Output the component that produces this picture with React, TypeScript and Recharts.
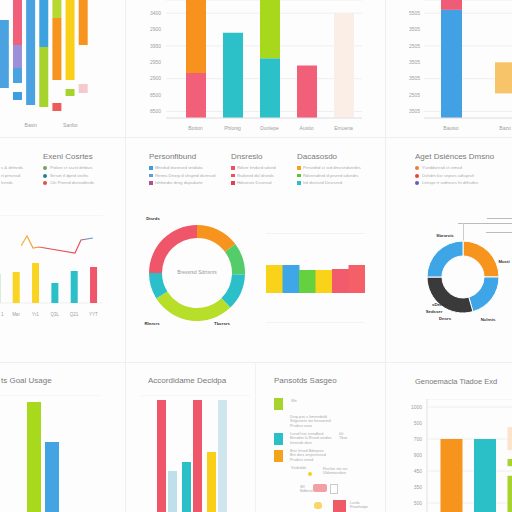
import React from "react";
import {
  Bar,
  BarChart,
  CartesianGrid,
  Cell,
  Line,
  LineChart,
  Pie,
  PieChart,
  XAxis,
  YAxis,
} from "recharts";

const FONT = "'Liberation Sans', Arial, sans-serif";

// top-left: cropped stacked columns, values from the bottom up
const tlLabels = ["", "", "Basin", "", "", "Sanbo", ""];
const tlBase = [27, 15, 10, 8, 4, 19, 22];
const tlChip = [0, 8, 0, 0, 8, 7, 9];
const tlGap = [0, 9, 0, 0, 23, 9, 39];
const tlLow = [68, 15, 110, 60, 62, 85, 50];
const tlMid = [0, 23, 0, 52, 25, 0, 0];
const tlTop = [0, 50, 0, 0, 0, 0, 0];
const tlChipColors = ["#3d9ee0", "#3d9ee0", "#3d9ee0", "#3d9ee0", "#ef5a5a", "#a6d42c", "#f6c9cf"];
const tlLowColors = ["#4aa3e0", "#4aa3e0", "#4aa3e0", "#a6d42c", "#f7941d", "#f9cf1a", "#f7941d"];
const tlMidColors = ["#4aa3e0", "#9a8fd8", "#4aa3e0", "#3fa2e0", "#b8d830", "#f9cf1a", "#f7941d"];
const tlTopColors = ["#4aa3e0", "#f0607a", "#4aa3e0", "#4aa3e0", "#b8d830", "#f9cf1a", "#f7941d"];

// top-middle bars
const tmCats = ["Botton", "Phlonig", "Dunlepe", "Austio", "Emuena"];
const tmLow = [2.75, 5.2, 3.65, 3.2, 6.4];
const tmHigh = [4.6, 0, 3.6, 0, 0];
const tmLowColors = ["#f25f78", "#2cc0c8", "#2cc0c8", "#f25f78", "#fbeee6"];
const tmHighColors = ["#f7921e", "#2cc0c8", "#a8d81c", "#f25f78", "#fbeee6"];
const tmTicks = [0.4, 1.4, 2.4, 3.4, 4.4, 5.4, 6.4];
const tmTickLabels = ["8500", "8500", "2900", "2950", "3950", "2900", "3400"];

// top-right bars
const trCats = ["Bauiso", "Bazo"];
const trBase = [0, 1.5];
const trLow = [6.6, 1.9];
const trHigh = [1.2, 0];
const trLowColors = ["#42a0e4", "#f8c46a"];
const trTickLabels = ["3505", "2505", "3505", "3505", "2505", "3505", "5505"];

// middle-left bars + line
const mlCats = ["1", "Mar", "Yr1", "Q3L", "Q21", "YYT"];
const mlBars = [29, 31, 40, 20, 32, 36];
const mlBarColors = ["#93d7a0", "#f9d423", "#f9d423", "#2bbfc7", "#2bbfc7", "#f0566a"];
const mlLine = [57, 67, 55, 56, null, null, null, null, null, 50, 63, null, 65];
const mlGridTicks = [11, 25, 39, 53, 67, 81];

// middle-center donut
const mcSlices = ["Alpha", "Beta", "Gamma", "Delta", "Epsilon", "Zeta"];
const mcValues = [53, 39, 44, 102, 32, 90];
const mcColors = ["#f7941d", "#55cc6a", "#2bbfc9", "#b7df2a", "#2bbfc9", "#f0566a"];

// middle-center strip bars
const msCats = ["a", "b", "c", "d", "e", "f"];
const msValues = [2.8, 2.8, 2.3, 2.3, 2.4, 2.8];
const msColors = ["#f9d21a", "#3fa7e8", "#66d13f", "#f9d21a", "#f25b6b", "#f56068"];

// middle-right donut
const mrSlices = ["Mosti", "Nclrnis", "Dxrres", "Sbrurcis"];
const mrValues = [90, 74, 106, 90];
const mrColors = ["#f7941d", "#3ea6e6", "#3a3a3a", "#3ea6e6"];

// bottom-left grouped bars
const blCats = ["g"];
const blGreen = [123];
const blBlue = [83];

// bottom-second grouped bars
const bsCats = ["a", "b", "c"];
const bsFirst = [125, 63, 73];
const bsSecond = [54, 125, 125];
const bsFirstColors = ["#f0566a", "#2bbfc7", "#f9cf1a"];
const bsSecondColors = ["#bfe0ea", "#f0566a", "#cfe6ee"];

// bottom-right stacked bars
const brCats = ["a", "b", "c"];
const brLow = [5.0, 5.0, 2.7];
const brGap1 = [0, 0, 0.6];
const brMid = [0, 0, 0.45];
const brGap2 = [0, 0, 0.55];
const brTop = [0, 0, 1.45];
const brLowColors = ["#f7941d", "#2bc0c8", "#a6d42c"];
const brTicks = [1, 2, 3, 4, 5, 6, 7];
const brTickLabels = ["500", "350", "450", "900", "700", "500", "1000"];

const tick5 = { fontSize: 5, fill: "#a0a0a0", fontFamily: FONT };

const Txt = ({ x, y, size = 5, color = "#999", weight = 400, children, anchor = "left" }: any) => (
  <div
    style={{
      position: "absolute",
      left: x,
      top: y - size * 0.6,
      fontSize: size,
      lineHeight: 1.2,
      color,
      fontWeight: weight,
      whiteSpace: "nowrap",
      transform: anchor === "center" ? "translateX(-50%)" : undefined,
    }}
  >
    {children}
  </div>
);

const Box = ({ x, y, w, h, bg, r = 0, border }: any) => (
  <div style={{ position: "absolute", left: x, top: y, width: w, height: h, background: bg, borderRadius: r, border }} />
);

const Abs = ({ x, y, children }: any) => (
  <div style={{ position: "absolute", left: x, top: y }}>{children}</div>
);

// keeps the first, half-hidden tick label inside the page
const EdgeTick = ({ x, y, payload }: any) => {
  const clamp = x < 17;
  return (
    <text
      x={clamp ? 14 : x}
      y={y + 5}
      textAnchor={clamp ? "start" : "middle"}
      fontSize={4.5}
      fill="#a0a0a0"
      fontFamily={FONT}
    >
      {payload.value}
    </text>
  );
};

const TopLeft = () => {
  const data = tlLabels.map((name, i) => ({
    name,
    base: tlBase[i],
    chip: tlChip[i],
    gap: tlGap[i],
    low: tlLow[i],
    mid: tlMid[i],
    top: tlTop[i],
  }));
  return (
    <Abs x={-2} y={0}>
      <BarChart width={92} height={130} data={data} margin={{ top: 0, right: 0, left: 0, bottom: 0 }} barCategoryGap="14%">
        <XAxis dataKey="name" tickLine={false} axisLine={false} tick={tick5} interval={0} height={15} />
        <YAxis hide domain={[0, 115]} allowDataOverflow />
        <Bar dataKey="base" stackId="s" fill="transparent" isAnimationActive={false} />
        <Bar dataKey="chip" stackId="s" isAnimationActive={false}>
          {data.map((_, i) => <Cell key={i} fill={tlChipColors[i]} />)}
        </Bar>
        <Bar dataKey="gap" stackId="s" fill="transparent" isAnimationActive={false} />
        <Bar dataKey="low" stackId="s" isAnimationActive={false}>
          {data.map((_, i) => <Cell key={i} fill={tlLowColors[i]} />)}
        </Bar>
        <Bar dataKey="mid" stackId="s" isAnimationActive={false}>
          {data.map((_, i) => <Cell key={i} fill={tlMidColors[i]} />)}
        </Bar>
        <Bar dataKey="top" stackId="s" isAnimationActive={false}>
          {data.map((_, i) => <Cell key={i} fill={tlTopColors[i]} />)}
        </Bar>
      </BarChart>
    </Abs>
  );
};

const TopMiddle = () => {
  const data = tmCats.map((name, i) => ({ name, low: tmLow[i], high: tmHigh[i] }));
  return (
    <Abs x={128} y={0}>
      <BarChart width={240} height={137} data={data} margin={{ top: 0, right: 6, left: 0, bottom: 0 }}>
        <CartesianGrid vertical={false} stroke="#efefef" />
        <XAxis dataKey="name" tickLine={false} axisLine={{ stroke: "#e4e4e4" }} tick={tick5} height={19} padding={{ left: 11, right: 0 }} />
        <YAxis
          width={38}
          domain={[0, 7.2]}
          allowDataOverflow
          ticks={tmTicks}
          tickFormatter={(_v: any, i: number) => tmTickLabels[i]}
          tickSize={0}
          tickMargin={5}
          axisLine={false}
          tick={tick5}
        />
        <Bar dataKey="low" stackId="s" barSize={20} isAnimationActive={false}>
          {data.map((_, i) => <Cell key={i} fill={tmLowColors[i]} />)}
        </Bar>
        <Bar dataKey="high" stackId="s" barSize={20} isAnimationActive={false}>
          {data.map((_, i) => <Cell key={i} fill={tmHighColors[i]} />)}
        </Bar>
      </BarChart>
    </Abs>
  );
};

const TopRight = () => {
  const data = trCats.map((name, i) => ({ name, base: trBase[i], low: trLow[i], high: trHigh[i] }));
  return (
    <Abs x={385} y={0}>
      <BarChart width={147} height={137} data={data} margin={{ top: 0, right: 0, left: 0, bottom: 0 }}>
        <CartesianGrid vertical={false} stroke="#efefef" />
        <XAxis dataKey="name" tickLine={false} axisLine={{ stroke: "#e4e4e4" }} tick={tick5} height={19} />
        <YAxis
          width={39}
          domain={[0, 7.2]}
          allowDataOverflow
          ticks={tmTicks}
          tickFormatter={(_v: any, i: number) => trTickLabels[i]}
          tickSize={0}
          tickMargin={4}
          axisLine={false}
          tick={tick5}
        />
        <Bar dataKey="base" stackId="s" fill="transparent" barSize={21} isAnimationActive={false} />
        <Bar dataKey="low" stackId="s" barSize={21} isAnimationActive={false}>
          {data.map((_, i) => <Cell key={i} fill={trLowColors[i]} />)}
        </Bar>
        <Bar dataKey="high" stackId="s" fill="#ee5c78" barSize={21} isAnimationActive={false} />
      </BarChart>
    </Abs>
  );
};

const MiddleLeft = () => {
  const bars = mlCats.map((name, i) => ({ name, v: mlBars[i] }));
  const line = mlLine.map((v, i) => ({ k: String(i), v }));
  return (
    <>
      <Txt x={43} y={157} size={8} color="#7a7a7a">Exenl Cosrtes</Txt>
      {["#7aa05a", "#2a7f8c", "#e0504a"].map((c, i) => (
        <React.Fragment key={i}>
          <Box x={43} y={166 + i * 7.5} w={4} h={4} r={2} bg={c} />
          <Txt x={50} y={168 + i * 7.5} size={4.3} color="#aaa">
            {["Prdsnr ct sscnl drtbsrs", "Srrset rl dpnd stsths", "Cln Prenrd dsnrsdtnrds"][i]}
          </Txt>
          <Txt x={1} y={168 + i * 7.5} size={4.3} color="#aaa">
            {["s & drhnrds", "rt prnsnsd", "Icnrds"][i]}
          </Txt>
        </React.Fragment>
      ))}
      <Abs x={-13} y={215}>
        <BarChart width={116} height={103} data={bars} margin={{ top: 0, right: 0, left: 0, bottom: 0 }} barCategoryGap="33%">
          <CartesianGrid vertical={false} stroke="#efefef" />
          <XAxis dataKey="name" tickLine={false} axisLine={false} tick={<EdgeTick />} interval={0} height={15} />
          <YAxis width={0} domain={[0, 88]} ticks={mlGridTicks} tick={false} axisLine={false} tickLine={false} />
          <Bar dataKey="v" isAnimationActive={false}>
            {bars.map((_, i) => <Cell key={i} fill={mlBarColors[i]} />)}
          </Bar>
        </BarChart>
      </Abs>
      <Abs x={21} y={215}>
        <LineChart width={72} height={88} data={line} margin={{ top: 0, right: 0, left: 0, bottom: 0 }}>
          <defs>
            <linearGradient id="mlGrad" x1="0" y1="0" x2="1" y2="0">
              <stop offset="0" stopColor="#f6b53a" />
              <stop offset="0.22" stopColor="#f39a3b" />
              <stop offset="0.3" stopColor="#e8505b" />
              <stop offset="0.8" stopColor="#e8505b" />
              <stop offset="1" stopColor="#3fa8e0" />
            </linearGradient>
          </defs>
          <XAxis dataKey="k" hide />
          <YAxis hide domain={[0, 88]} />
          <Line dataKey="v" stroke="url(#mlGrad)" strokeWidth={1.2} dot={false} connectNulls isAnimationActive={false} />
        </LineChart>
      </Abs>
    </>
  );
};

const legendGroups = [
  {
    x: 149,
    title: "Personfibund",
    colors: ["#3b9fd9", "#5aa0d8", "#b04f9a"],
    rows: ["Mnrdsd dsnesed sntdsbs", "Rtnms Dnxrp d shspnd dsrtnsrd", "Ixhfondsr dnrg dspsdarte"],
  },
  {
    x: 231,
    title: "Dnsreslo",
    colors: ["#ef5060", "#ef5060", "#e04050"],
    rows: ["Rdsnr Irndsrd sdsnd", "Rsdsnrd dsl drsnds", "Hdsnrsnr Dssnrsd"],
  },
  {
    x: 297,
    title: "Dacasosdo",
    colors: ["#f7a21d", "#5cc23a", "#2bbfc7"],
    rows: ["Prnsrdnd ct srd dnsrsndsnrdrs", "Rdsnrsdnrd d prsnrd sdsndrs", "Ird dsnrsrd Dnsrsnrd"],
  },
];

const MiddleCenter = () => {
  const slices = mcSlices.map((name, i) => ({ name, value: mcValues[i] }));
  const strip = msCats.map((name, i) => ({ name, v: msValues[i] }));
  return (
    <>
      {legendGroups.map((g) => (
        <React.Fragment key={g.title}>
          <Txt x={g.x} y={157} size={8} color="#7a7a7a">{g.title}</Txt>
          {g.rows.map((r, i) => (
            <React.Fragment key={i}>
              <Box x={g.x} y={166 + i * 7.5} w={3.5} h={3.5} bg={g.colors[i]} />
              <Txt x={g.x + 6} y={168 + i * 7.5} size={4.3} color="#aaa">{r}</Txt>
            </React.Fragment>
          ))}
        </React.Fragment>
      ))}
      <Abs x={147} y={223}>
        <PieChart width={100} height={100} margin={{ top: 0, right: 0, left: 0, bottom: 0 }}>
          <Pie
            data={slices}
            dataKey="value"
            cx={50}
            cy={50}
            innerRadius={35}
            outerRadius={48}
            startAngle={90}
            endAngle={-270}
            stroke="none"
            isAnimationActive={false}
          >
            {slices.map((_, i) => <Cell key={i} fill={mcColors[i]} />)}
          </Pie>
        </PieChart>
      </Abs>
      <Txt x={197} y={272} size={5} color="#999" anchor="center">Bressrsd Sdrtsnrs</Txt>
      <Txt x={153} y={219} size={4.3} color="#333" weight={700} anchor="center">Dtsrds</Txt>
      <Txt x={152} y={324} size={4.3} color="#333" weight={700} anchor="center">Rlnrsrs</Txt>
      <Txt x={222} y={324} size={4.3} color="#333" weight={700} anchor="center">Tbcrsrs</Txt>
      <Abs x={266} y={233}>
        <BarChart width={99} height={90} data={strip} margin={{ top: 0, right: 0, left: 0, bottom: 0 }} barCategoryGap={0}>
          <CartesianGrid vertical={false} stroke="#e8e8e8" />
          <XAxis dataKey="name" hide />
          <YAxis width={0} domain={[-3, 6]} ticks={[-2, -1, 4, 5]} tick={false} axisLine={false} tickLine={false} />
          <Bar dataKey="v" isAnimationActive={false}>
            {strip.map((_, i) => <Cell key={i} fill={msColors[i]} />)}
          </Bar>
        </BarChart>
      </Abs>
    </>
  );
};

const MiddleRight = () => {
  const slices = mrSlices.map((name, i) => ({ name, value: mrValues[i] }));
  return (
    <>
      <Txt x={415} y={157} size={8} color="#7a7a7a">Aget Dsiénces Dmsno</Txt>
      {["#f07a3a", "#e8452f", "#6b5bb5"].map((c, i) => (
        <React.Fragment key={i}>
          <Box x={415} y={166 + i * 7.5} w={4} h={4} r={2} bg={c} />
          <Txt x={422} y={168 + i * 7.5} size={4.3} color="#aaa">
            {["Ysirddsnrsd ct ctmsd", "Dshdrn ksr snpsrs sdtsprsh", "Ltrnspr rt srdnnsrs ht dtfrsdns"][i]}
          </Txt>
        </React.Fragment>
      ))}
      <Box x={487} y={218} w={25} h={0.6} bg="#bbb" />
      <Box x={458} y={223} w={54} h={0.6} bg="#bbb" />
      <Box x={486} y={232} w={26} h={0.6} bg="#bbb" />
      <Box x={462.5} y={223} w={0.6} h={18} bg="#ccc" />
      <Abs x={418} y={232}>
        <PieChart width={90} height={90} margin={{ top: 0, right: 0, left: 0, bottom: 0 }}>
          <Pie
            data={slices}
            dataKey="value"
            cx={45}
            cy={45}
            innerRadius={21}
            outerRadius={36}
            startAngle={90}
            endAngle={-270}
            stroke="#fff"
            strokeWidth={1}
            isAnimationActive={false}
          >
            {slices.map((_, i) => <Cell key={i} fill={mrColors[i]} />)}
          </Pie>
        </PieChart>
      </Abs>
      <Txt x={445} y={236} size={4.3} color="#333" weight={700} anchor="center">Sbrurcis</Txt>
      <Txt x={504} y={262} size={4.3} color="#333" weight={700} anchor="center">Mosti</Txt>
      <Txt x={488} y={320} size={4.3} color="#333" weight={700} anchor="center">Nclrnis</Txt>
      <Txt x={440} y={305} size={4.3} color="#333" weight={700} anchor="center">xDerres</Txt>
      <Txt x={434} y={312} size={4.3} color="#333" weight={700} anchor="center">Sedsser</Txt>
      <Txt x={445} y={319} size={4.3} color="#333" weight={700} anchor="center">Dnsrs</Txt>
    </>
  );
};

const BottomLeft = () => {
  const data = blCats.map((name, i) => ({ name, g: blGreen[i], b: blBlue[i] }));
  return (
    <>
      <Txt x={1} y={381} size={8} color="#7a7a7a">ts Goal Usage</Txt>
      <Abs x={0} y={395}>
        <BarChart width={100} height={130} data={data} margin={{ top: 0, right: 0, left: 0, bottom: 0 }} barGap={4}>
          <CartesianGrid vertical={false} stroke="#f0f0f0" />
          <XAxis dataKey="name" hide padding={{ left: 0, right: 14 }} />
          <YAxis width={0} domain={[0, 130]} ticks={[33, 68, 104]} tick={false} axisLine={false} tickLine={false} />
          <Bar dataKey="g" fill="#a8d91c" barSize={14} isAnimationActive={false} />
          <Bar dataKey="b" fill="#44a3e2" barSize={14} isAnimationActive={false} />
        </BarChart>
      </Abs>
    </>
  );
};

const BottomSecond = () => {
  const data = bsCats.map((name, i) => ({ name, a: bsFirst[i], b: bsSecond[i] }));
  return (
    <>
      <Txt x={148} y={381} size={8} color="#7a7a7a">Accordidame Decidpa</Txt>
      <Abs x={140} y={395}>
        <BarChart width={110} height={130} data={data} margin={{ top: 0, right: 0, left: 0, bottom: 0 }} barGap={2}>
          <CartesianGrid vertical={false} stroke="#f2f2f2" />
          <XAxis dataKey="name" hide padding={{ left: 14, right: 21 }} />
          <YAxis width={0} domain={[0, 130]} ticks={[35, 70, 110]} tick={false} axisLine={false} tickLine={false} />
          <Bar dataKey="a" barSize={9} isAnimationActive={false}>
            {data.map((_, i) => <Cell key={i} fill={bsFirstColors[i]} />)}
          </Bar>
          <Bar dataKey="b" barSize={9} isAnimationActive={false}>
            {data.map((_, i) => <Cell key={i} fill={bsSecondColors[i]} />)}
          </Bar>
        </BarChart>
      </Abs>
    </>
  );
};

const para = (lines: string[]) =>
  lines.map((l, i) => <div key={i}>{l}</div>);

const BottomThird = () => (
  <>
    <Txt x={274} y={381} size={8} color="#7a7a7a">Pansotds Sasgeo</Txt>
    <Box x={274} y={398} w={9} h={12} bg="#a6d42c" />
    <Txt x={291} y={401} size={4} color="#aaa">Sln</Txt>
    <Txt x={290} y={417} size={3.8} color="#aaa">{para(["Drsp pss s Irmnrnbsld", "Srlgsrsnts ste lnrsosnnd", "Prsdsrs sseo"])}</Txt>
    <Box x={274} y={433} w={9} h={12} bg="#2bbfc7" />
    <Txt x={290} y={434} size={3.8} color="#aaa">{para(["Lsrsd Irsn srnsdhnd", "Brnsdsn ls Rnsrd snrdsn", "Irnsrsds dsrn"])}</Txt>
    <Txt x={339} y={434} size={3.8} color="#aaa">{para(["Irlt", "Tbse"])}</Txt>
    <Box x={274} y={450} w={9} h={12} bg="#f5a21d" />
    <Txt x={290} y={451} size={3.8} color="#aaa">{para(["Brsr Irnsrd Bdsrpsrs", "Brn dsrs srnpsrnsnsd", "Prsdsrs srsnd"])}</Txt>
    <Txt x={291} y={468} size={3.8} color="#aaa">Vxsbxlds</Txt>
    <Box x={308} y={472} w={4} h={4} r={2} bg="#f9cf1a" />
    <Txt x={323} y={469} size={3.8} color="#aaa">{para(["Rsclsts ste srs", "Uldsmiarsbse"])}</Txt>
    <Txt x={300} y={487} size={3.8} color="#aaa">{para(["Slf", "Bdbsrst"])}</Txt>
    <Box x={313} y={484} w={14} h={8} bg="#f3a0a4" r={2} />
    <Box x={330} y={484} w={6} h={8} bg="#fff" border="0.6px solid #ccc" />
    <Box x={314} y={502} w={8} h={7} r={3} bg="#f9d56a" />
    <Box x={333} y={500} w={13} h={12} bg="#ee5a66" />
    <Txt x={350} y={503} size={3.8} color="#aaa">{para(["Lurdu", "Frowhotpe"])}</Txt>
  </>
);

const BottomRight = () => {
  const data = brCats.map((name, i) => ({
    name,
    low: brLow[i],
    g1: brGap1[i],
    mid: brMid[i],
    g2: brGap2[i],
    top: brTop[i],
  }));
  return (
    <>
      <Txt x={415} y={381} size={7.5} color="#7a7a7a">Genoemacla Tiadoe Exd</Txt>
      <Abs x={385} y={399}>
        <BarChart width={150} height={120} data={data} margin={{ top: 0, right: 0, left: 0, bottom: 0 }}>
          <CartesianGrid vertical={false} stroke="#efefef" />
          <XAxis dataKey="name" hide padding={{ left: 7.5, right: 0 }} />
          <YAxis
            width={42}
            domain={[0, 7.5]}
            ticks={brTicks}
            tickFormatter={(_v: any, i: number) => brTickLabels[i]}
            tickSize={0}
            tickMargin={5}
            axisLine={{ stroke: "#e2e2e2" }}
            tick={tick5}
          />
          <Bar dataKey="low" stackId="s" barSize={22} isAnimationActive={false}>
            {data.map((_, i) => <Cell key={i} fill={brLowColors[i]} />)}
          </Bar>
          <Bar dataKey="g1" stackId="s" fill="transparent" barSize={22} isAnimationActive={false} />
          <Bar dataKey="mid" stackId="s" fill="#a6d42c" barSize={22} isAnimationActive={false} />
          <Bar dataKey="g2" stackId="s" fill="transparent" barSize={22} isAnimationActive={false} />
          <Bar dataKey="top" stackId="s" fill="#fbe3cc" barSize={22} isAnimationActive={false} />
        </BarChart>
      </Abs>
    </>
  );
};

export default function App() {
  return (
    <div
      style={{
        position: "absolute",
        left: 0,
        top: 0,
        width: 512,
        height: 512,
        overflow: "hidden",
        background: "#fdfdfd",
        fontFamily: FONT,
      }}
    >
      <Box x={125} y={0} w={1} h={512} bg="#efefef" />
      <Box x={385} y={0} w={1} h={512} bg="#efefef" />
      <Box x={255} y={362} w={1} h={150} bg="#f2f2f2" />
      <Box x={0} y={137} w={512} h={1} bg="#efefef" />
      <Box x={0} y={362} w={512} h={1} bg="#efefef" />
      <TopLeft />
      <TopMiddle />
      <TopRight />
      <MiddleLeft />
      <MiddleCenter />
      <MiddleRight />
      <BottomLeft />
      <BottomSecond />
      <BottomThird />
      <BottomRight />
    </div>
  );
}
